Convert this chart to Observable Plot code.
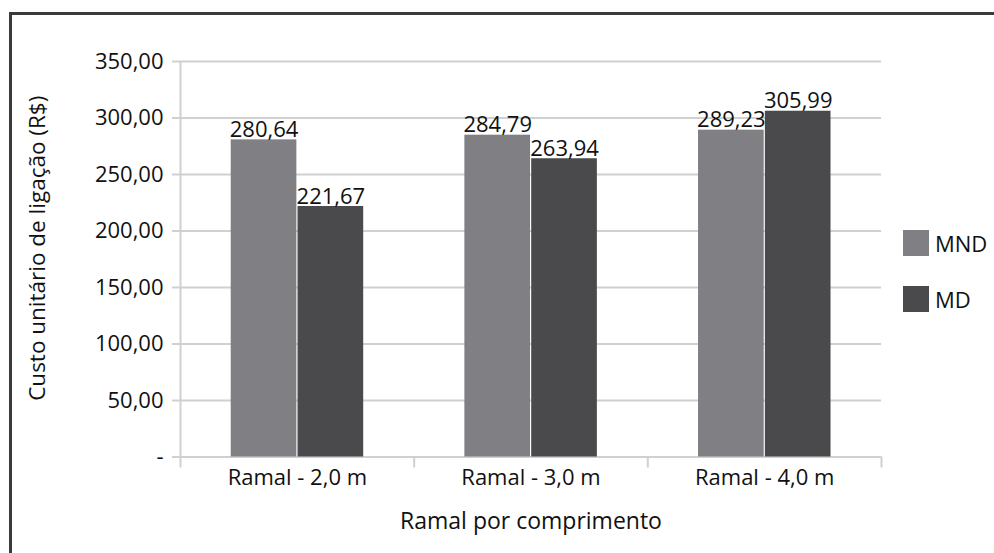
<!DOCTYPE html>
<html><head><meta charset="utf-8">
<script src="https://cdn.jsdelivr.net/npm/d3@7"></script>
<script src="https://cdn.jsdelivr.net/npm/@observablehq/plot@0.6"></script>
<style>
body{margin:0;background:#fff;font-family:"Open Sans",sans-serif;}
#wrap{position:relative;width:994px;height:553px;overflow:hidden;background:#fff}
#border{position:absolute;left:9px;top:12px;width:1100px;height:700px;border-left:3px solid #3a3a3a;border-top:3px solid #3a3a3a;box-sizing:border-box}
#chart{position:absolute;left:0;top:0}
#legend{position:absolute;left:903px;top:230px;font-family:"Open Sans",sans-serif;font-size:22px;color:#111}
.item{display:flex;align-items:center;height:26px;margin-bottom:30px}
.sw{width:26px;height:26px;margin-right:6px}
</style></head><body>
<div id="wrap"><div id="border"></div><div id="chart"></div><div id="legend"></div></div>
<script>
const categories = ["Ramal - 2,0 m", "Ramal - 3,0 m", "Ramal - 4,0 m"];
const series = ["MND", "MD"];
const mndValues = [280.64, 284.79, 289.23];
const mdValues = [221.67, 263.94, 305.99];
const yTicks = [0, 50, 100, 150, 200, 250, 300, 350];
const colors = ["#808084", "#4a4a4c"];

// layout constants (fractions of a group's width)
const barOffsets = [0.217, 0.503];
const barWidth = 0.281;

const valuesBySeries = [mndValues, mdValues];
const rows = [];
categories.forEach((c, i) => {
  series.forEach((s, j) => {
    rows.push({category: c, series: s, value: valuesBySeries[j][i],
      x1: i + barOffsets[j], x2: i + barOffsets[j] + barWidth});
  });
});

const fmt = d => d.toFixed(2).replace(".", ",");
const fmtTick = d => d === 0 ? "-" : fmt(d);
const grid = "#d0d0d0";

const chart = Plot.plot({
  width: 994, height: 553,
  marginLeft: 180, marginRight: 113, marginTop: 61, marginBottom: 96.5,
  style: {fontFamily: "Open Sans", fontSize: "22px", color: "#111", background: "transparent"},
  x: {type: "linear", domain: [0, 3], axis: null},
  y: {domain: [0, 350], axis: null},
  color: {domain: series, range: colors},
  marks: [
    Plot.ruleY(yTicks, {stroke: grid, strokeWidth: 2}),
    Plot.ruleX([0], {stroke: grid, strokeWidth: 2}),
    Plot.axisY({ticks: yTicks, tickSize: 8, tickPadding: 9, tickFormat: fmtTick, stroke: grid, strokeWidth: 2, label: null}),
    Plot.axisX({ticks: [0, 1, 2, 3], tickSize: 11, tickFormat: () => "", stroke: grid, strokeWidth: 2, label: null}),
    Plot.axisX({ticks: [0.5, 1.5, 2.5], tickSize: 0, tickPadding: 12, tickFormat: d => categories[Math.floor(d)], label: null}),
    Plot.rectY(rows, {x1: "x1", x2: "x2", y: "value", fill: "series"}),
    Plot.text(rows, {x: d => (d.x1 + d.x2) / 2, y: "value", text: d => fmt(d.value), dy: -10, fill: "#111"}),
    Plot.text(["Custo unitário de ligação (R$)"], {frameAnchor: "left", textAnchor: "middle", rotate: -90, dx: -143, dy: -11, fill: "#111", fontSize: 22.5}),
    Plot.text(["Ramal por comprimento"], {frameAnchor: "bottom", textAnchor: "middle", dy: 72, fill: "#111", fontSize: 23})
  ]
});
document.getElementById("chart").appendChild(chart);

const legend = document.getElementById("legend");
series.forEach((s, j) => {
  const item = document.createElement("div");
  item.className = "item";
  const sw = document.createElement("div");
  sw.className = "sw";
  sw.style.background = colors[j];
  const t = document.createElement("span");
  t.textContent = s;
  item.appendChild(sw); item.appendChild(t);
  legend.appendChild(item);
});
</script>
</body></html>
